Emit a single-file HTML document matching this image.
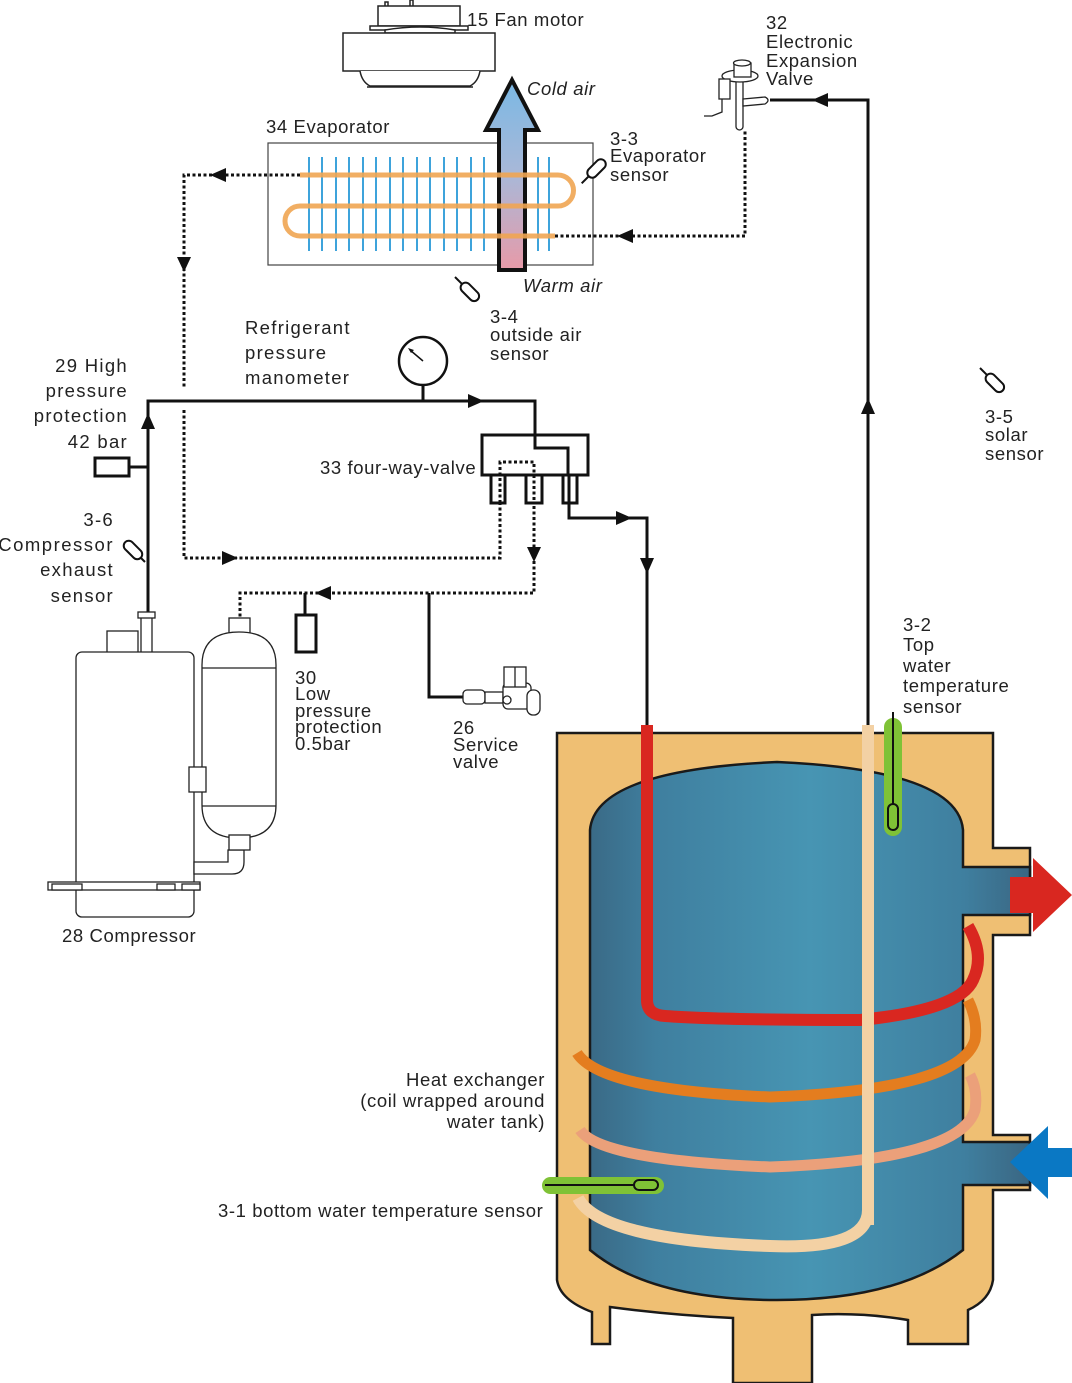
<!DOCTYPE html>
<html><head><meta charset="utf-8"><style>
html,body{margin:0;padding:0;background:#fff;}
svg{display:block;}
text{font-family:"Liberation Sans",sans-serif;font-size:18.5px;fill:#222;letter-spacing:0.6px;}
</style></head><body>
<svg width="1072" height="1383" viewBox="0 0 1072 1383" xmlns="http://www.w3.org/2000/svg">
<defs>
<linearGradient id="air" x1="0" y1="0" x2="0" y2="1">
<stop offset="0" stop-color="#7ab8e4"/><stop offset="0.5" stop-color="#a9b8d8"/><stop offset="1" stop-color="#e89aa8"/></linearGradient>
<linearGradient id="water" x1="0" y1="0" x2="1" y2="0">
<stop offset="0" stop-color="#3a6a86"/><stop offset="0.15" stop-color="#3f7f9f"/><stop offset="0.5" stop-color="#4795b3"/><stop offset="0.85" stop-color="#3f7f9f"/><stop offset="1" stop-color="#3a6682"/></linearGradient>
</defs>

<!-- Fan motor -->
<g fill="#fff" stroke="#222" stroke-width="1.5">
<rect x="385" y="2" width="3" height="8"/><rect x="410" y="0" width="3" height="10"/>
<rect x="378" y="6" width="82" height="20"/>
<rect x="370" y="26" width="98" height="4"/>
<path d="M385 30 Q420 24 455 30 L455 33 L385 33 z"/>
<rect x="343" y="33" width="152" height="38"/>
<path d="M360 71 Q362 82 370 86 L470 86 Q478 82 480 71"/>
<line x1="367" y1="87" x2="473" y2="87"/>
</g>
<text x="467" y="26">15 Fan motor</text>

<!-- Evaporator -->
<rect x="268" y="143" width="325" height="122" fill="#fff" stroke="#444" stroke-width="1.2"/>
<text x="266" y="133">34 Evaporator</text>
<!-- air arrow -->
<path d="M499 270 L499 130 L486 130 L512 80 L538 130 L525 130 L525 270 z" fill="url(#air)" stroke="#111" stroke-width="4" stroke-linejoin="miter"/>
<g stroke="#2a9ad8" stroke-width="2" opacity="0.9">
<line x1="309" y1="157" x2="309" y2="251"/><line x1="322" y1="157" x2="322" y2="251"/><line x1="336" y1="157" x2="336" y2="251"/><line x1="349" y1="157" x2="349" y2="251"/><line x1="363" y1="157" x2="363" y2="251"/><line x1="376" y1="157" x2="376" y2="251"/><line x1="390" y1="157" x2="390" y2="251"/><line x1="403" y1="157" x2="403" y2="251"/><line x1="417" y1="157" x2="417" y2="251"/><line x1="430" y1="157" x2="430" y2="251"/><line x1="444" y1="157" x2="444" y2="251"/><line x1="457" y1="157" x2="457" y2="251"/><line x1="471" y1="157" x2="471" y2="251"/><line x1="484" y1="157" x2="484" y2="251"/><line x1="538" y1="157" x2="538" y2="251"/><line x1="549" y1="157" x2="549" y2="251"/>
</g>
<path d="M300 175 L558 175 A15.5 15.5 0 0 1 558 206 L300 206 A15 15 0 0 0 300 236 L555 236" fill="none" stroke="#f0a552" stroke-width="5" opacity="0.9"/>
<text x="527" y="95" font-style="italic">Cold air</text>
<text x="523" y="292" font-style="italic">Warm air</text>

<!-- 3-3 sensor -->
<g transform="translate(593,172) rotate(-45)"><rect x="-6" y="-5" width="22" height="10" rx="5" fill="#fff" stroke="#111" stroke-width="2"/><line x1="-6" y1="0" x2="-16" y2="0" stroke="#111" stroke-width="2"/></g>
<text x="610" y="145">3-3</text><text x="610" y="162">Evaporator</text><text x="610" y="181">sensor</text>

<!-- EEV -->
<g fill="#fff" stroke="#222" stroke-width="1.3">
<rect x="736" y="76" width="7" height="54" rx="3.5"/>
<path d="M743 99 L765 97 Q771 100 765 104 L743 106 z"/>
<ellipse cx="740" cy="76" rx="18" ry="6"/>
<rect x="734" y="63" width="17" height="14"/><ellipse cx="742" cy="63" rx="8.5" ry="3"/>
<rect x="719" y="79" width="11" height="20"/>
<path d="M722 99 L722 112 L712 116 L704 116" fill="none"/>
</g>
<text x="766" y="29">32</text><text x="766" y="48">Electronic</text><text x="766" y="67">Expansion</text><text x="766" y="85">Valve</text>

<!-- refrigerant lines dotted -->
<g fill="none" stroke="#111" stroke-width="3" stroke-dasharray="3,2.5">
<path d="M300 175 L184 175 L184 388"/>
<path d="M184 410 L184 558 L500 558 L500 462 L534 462 L534 593 L240 593 L240 618"/>
<path d="M555 236 L745 236 L745 130"/>
</g>
<g fill="#111">
<path d="M210 175 L226 168 L226 182 z"/>
<path d="M184 272 L177 257 L191 257 z"/>
<path d="M238 558 L222 551 L222 565 z"/>
<path d="M534 562 L527 547 L541 547 z"/>
<path d="M315 593 L331 586 L331 600 z"/>
<path d="M617 236 L633 229 L633 243 z"/>
</g>

<!-- solid lines -->
<g fill="none" stroke="#111" stroke-width="3">
<path d="M770 100 L868 100 L868 725"/>
<path d="M148 615 L148 401 L535 401 L535 448 L568 448 L568 475"/>
<path d="M569 503 L569 518 L647 518 L647 725"/>
<path d="M423 385 L423 401"/>
<path d="M129 467 L148 467"/>
<path d="M305 593 L305 615"/>
<path d="M429 593 L429 697 L465 697"/>
</g>
<g fill="#111">
<path d="M812 100 L828 93 L828 107 z"/>
<path d="M868 398 L861 414 L875 414 z"/>
<path d="M148 413 L141 429 L155 429 z"/>
<path d="M484 401 L468 394 L468 408 z"/>
<path d="M632 518 L616 511 L616 525 z"/>
<path d="M647 574 L640 558 L654 558 z"/>
</g>

<!-- manometer -->
<circle cx="423" cy="361" r="24" fill="#fff" stroke="#111" stroke-width="2.5"/>
<line x1="423" y1="361" x2="410" y2="350" stroke="#111" stroke-width="1.5"/>
<path d="M408 348 L414 350 L411 353 z" fill="#111"/>
<text x="245" y="334" style="letter-spacing:1.3px">Refrigerant</text><text x="245" y="359" style="letter-spacing:1.3px">pressure</text><text x="245" y="384" style="letter-spacing:1.3px">manometer</text>

<!-- four way valve -->
<rect x="482" y="435" width="106" height="40" fill="#fff" stroke="#111" stroke-width="3"/>
<path d="M535 435 L535 448 L568 448 L568 475" fill="none" stroke="#111" stroke-width="3"/>
<g fill="#fff" stroke="#111" stroke-width="3">
<rect x="491" y="475" width="14" height="28"/><rect x="526" y="475" width="16" height="28"/><rect x="563" y="475" width="14" height="28"/>
</g>
<path d="M500 503 L500 462 L534 462 L534 503" fill="none" stroke="#111" stroke-width="3" stroke-dasharray="3,2.5"/>
<line x1="569" y1="475" x2="569" y2="505" stroke="#111" stroke-width="3"/>
<text x="320" y="474">33 four-way-valve</text>

<!-- high pressure switch -->
<rect x="95" y="458" width="34" height="18" fill="#fff" stroke="#111" stroke-width="3"/>
<text x="128" y="372" text-anchor="end" style="letter-spacing:1.3px">29 High</text>
<text x="128" y="397" text-anchor="end" style="letter-spacing:1.3px">pressure</text>
<text x="128" y="422" text-anchor="end" style="letter-spacing:1.3px">protection</text>
<text x="128" y="448" text-anchor="end" style="letter-spacing:1.3px">42 bar</text>

<!-- 3-6 sensor -->
<g transform="translate(145,562) rotate(-135)"><rect x="6" y="-5" width="22" height="10" rx="5" fill="#fff" stroke="#111" stroke-width="2"/><line x1="0" y1="0" x2="6" y2="0" stroke="#111" stroke-width="2"/></g>
<text x="114" y="526" text-anchor="end" style="letter-spacing:1.3px">3-6</text>
<text x="114" y="551" text-anchor="end" style="letter-spacing:1.5px">Compressor</text>
<text x="114" y="576" text-anchor="end" style="letter-spacing:1.3px">exhaust</text>
<text x="114" y="602" text-anchor="end" style="letter-spacing:1.3px">sensor</text>

<!-- 3-4 sensor -->
<g transform="translate(455,277) rotate(45)"><line x1="0" y1="0" x2="10" y2="0" stroke="#111" stroke-width="2"/><rect x="10" y="-5" width="22" height="10" rx="5" fill="#fff" stroke="#111" stroke-width="2"/></g>
<text x="490" y="323">3-4</text><text x="490" y="341">outside air</text><text x="490" y="360">sensor</text>

<!-- 3-5 sensor -->
<g transform="translate(980,368) rotate(45)"><line x1="0" y1="0" x2="10" y2="0" stroke="#111" stroke-width="2"/><rect x="10" y="-5" width="22" height="10" rx="5" fill="#fff" stroke="#111" stroke-width="2"/></g>
<text x="985" y="423">3-5</text><text x="985" y="441">solar</text><text x="985" y="460">sensor</text>

<!-- low pressure switch -->
<rect x="296" y="615" width="20" height="37" fill="#fff" stroke="#111" stroke-width="3"/>
<text x="295" y="684">30</text><text x="295" y="700">Low</text><text x="295" y="717">pressure</text><text x="295" y="733">protection</text><text x="295" y="750">0.5bar</text>

<!-- service valve -->
<g fill="#fff" stroke="#222" stroke-width="1.3">
<rect x="463" y="690" width="22" height="14" rx="4"/>
<rect x="485" y="692" width="18" height="11"/>
<rect x="503" y="683" width="28" height="26" rx="5"/>
<rect x="527" y="690" width="13" height="25" rx="6"/>
<rect x="504" y="667" width="22" height="20"/>
<line x1="515" y1="667" x2="515" y2="687"/>
<circle cx="507" cy="700" r="4"/>
</g>
<text x="453" y="734">26</text><text x="453" y="751">Service</text><text x="453" y="768">valve</text>

<!-- compressor -->
<g fill="#fff" stroke="#222" stroke-width="1.3">
<rect x="107" y="631" width="31" height="22"/>
<rect x="141" y="617" width="11" height="36"/>
<rect x="138" y="612" width="17" height="6"/>
<rect x="76" y="652" width="118" height="265" rx="6"/>
<line x1="76" y1="885" x2="194" y2="885"/>
<rect x="48" y="882" width="152" height="8"/>
<rect x="52" y="884" width="30" height="6"/><rect x="157" y="884" width="18" height="6"/><rect x="182" y="884" width="18" height="6"/>
<path d="M194 862 L228 862 L228 850 L244 850 L244 862 Q244 874 232 874 L194 874 z"/>
<rect x="229" y="618" width="21" height="17"/>
<path d="M202 665 Q202 632 239 632 Q276 632 276 665 L276 805 Q276 838 239 838 Q202 838 202 805 z"/>
<line x1="202" y1="668" x2="276" y2="668"/><line x1="202" y1="806" x2="276" y2="806"/>
<rect x="229" y="835" width="21" height="15"/>
<rect x="189" y="767" width="17" height="25"/>
</g>
<text x="62" y="942">28 Compressor</text>

<!-- tank -->
<path d="M557 733 L993 733 L993 848 L1030 848 L1030 935 L993 935 L993 1135 L1030 1135 L1030 1190 L993 1190 L993 1280 Q990 1300 968 1310 L968 1344 L908 1344 L908 1320 Q860 1312 812 1315 L812 1383 L733 1383 L733 1318 Q670 1315 610 1307 L610 1344 L592 1344 L592 1312 Q560 1300 557 1280 z" fill="#efbf73" stroke="#1a1a1a" stroke-width="2.5"/>
<path d="M590 830 Q595 770 777 762 Q958 770 963 830 L963 867 L1030 867 L1030 915 L963 915 L963 1142 L1030 1142 L1030 1185 L963 1185 L963 1250 Q900 1300 777 1300 Q650 1300 590 1250 z" fill="url(#water)" stroke="#1a1a1a" stroke-width="2.5"/>
<!-- coils -->
<path d="M578 1198 Q600 1240 770 1246 Q868 1250 868 1210 L868 725" fill="none" stroke="#f3d1a4" stroke-width="12"/>
<path d="M580 1130 Q600 1160 770 1167 Q960 1160 975 1110 Q978 1090 970 1075" fill="none" stroke="#eba07a" stroke-width="11"/>
<path d="M577 1053 Q600 1090 770 1097 Q960 1090 975 1040 Q978 1020 968 1000" fill="none" stroke="#e47d1f" stroke-width="11"/>
<path d="M647 725 L647 1000 Q647 1015 665 1016 Q720 1020 860 1020 Q960 1010 973 980 Q985 955 968 926" fill="none" stroke="#d92720" stroke-width="12"/>
<rect x="862" y="725" width="12" height="500" fill="#f3d1a4"/>
<!-- top sensor -->
<rect x="884" y="718" width="18" height="118" rx="9" fill="#7fc236"/>
<line x1="893" y1="712" x2="893" y2="805" stroke="#111" stroke-width="2"/>
<rect x="888" y="804" width="10" height="26" rx="5" fill="#7fc236" stroke="#111" stroke-width="2"/>
<text x="903" y="631">3-2</text><text x="903" y="651">Top</text><text x="903" y="672">water</text><text x="903" y="692">temperature</text><text x="903" y="713">sensor</text>
<!-- bottom sensor -->
<rect x="542" y="1177" width="122" height="17" rx="8.5" fill="#7fc236"/>
<line x1="545" y1="1185" x2="636" y2="1185" stroke="#111" stroke-width="2"/>
<rect x="634" y="1180" width="24" height="10" rx="5" fill="#7fc236" stroke="#111" stroke-width="2"/>
<text x="218" y="1217">3-1 bottom water temperature sensor</text>
<text x="545" y="1086" text-anchor="end">Heat exchanger</text>
<text x="545" y="1107" text-anchor="end">(coil wrapped around</text>
<text x="545" y="1128" text-anchor="end">water tank)</text>
<!-- arrows -->
<path d="M1010 877 L1033 877 L1033 858 L1072 895 L1033 932 L1033 913 L1010 913 z" fill="#d92720"/>
<path d="M1072 1148 L1048 1148 L1048 1126 L1010 1162 L1048 1199 L1048 1177 L1072 1177 z" fill="#0a78c4"/>
</svg>
</body></html>
